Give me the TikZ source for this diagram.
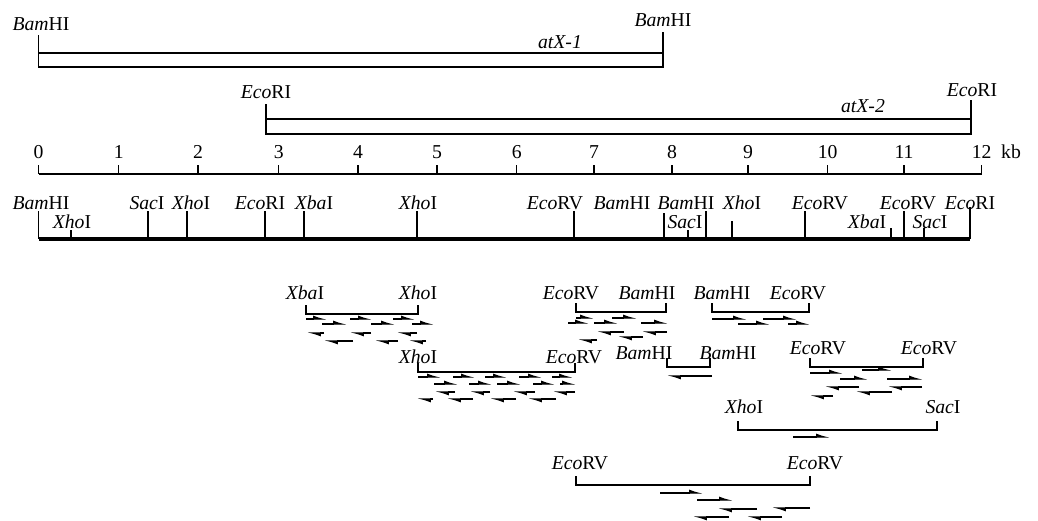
\documentclass[tikz,border=0pt]{standalone}
\usepackage{fontspec}
\setmainfont{Liberation Serif}
\usetikzlibrary{arrows.meta}
\newcommand{\rsite}[2]{\textit{#1}#2}
\begin{document}
\begin{tikzpicture}[x=0.025cm, y=-0.025cm, line width=0.9pt,
    lbl/.style={inner sep=0pt, font=\fontsize{14}{16}\selectfont},
    read/.style={line width=0.8pt, -{Latex[harpoon,length=8pt,width=5pt]}}]
    \useasboundingbox (0,0) rectangle (1038,520);

    % cloned fragments
    \draw (38.5,35) -- (38.5,67) -- (663,67) -- (663,32);
    \draw (38.5,53) -- (663,53);
    \node[lbl] (bam0) at (41,24) {\rsite{Bam}{HI}};
    \node[lbl] (bam1) at (663,20) {\rsite{Bam}{HI}};
    \node[lbl] (atx1) at (560,42) {\textit{atX-1}};

    \draw (266,104) -- (266,134) -- (971,134) -- (971,100);
    \draw (266,119) -- (971,119);
    \node[lbl] (eco0) at (266,92) {\rsite{Eco}{RI}};
    \node[lbl] (eco1) at (972,90) {\rsite{Eco}{RI}};
    \node[lbl] (atx2) at (863,106) {\textit{atX-2}};

    % kb scale
    \draw (38.5,174) -- (981.7,174);
    \foreach \k/\x in {0/38.5, 1/118.7, 2/198, 3/278.7, 4/358, 5/437, 6/516.7,
                       7/594, 8/672, 9/748, 10/827.7, 11/904, 12/981.7} {
        \draw (\x,165) -- (\x,174);
        \node[lbl] (kb\k) at (\x,152) {\k};
    }
    \node[lbl] (unit) at (1011,152) {kb};

    % restriction map
    \draw[line width=3.2pt] (38.5,239) -- (970,239);
    \foreach \x/\t in {38.5/211, 71/230, 148/211, 187/211, 265/211, 304/211, 417/211,
                       574/211, 664/213, 688/230, 706/211, 732/221, 805/211,
                       891/228, 904/211, 924/228, 970/207}
        \draw (\x,\t) -- (\x,239);

    \node[lbl] (m1) at (41,203) {\rsite{Bam}{HI}};
    \node[lbl] (m2) at (72,222) {\rsite{Xho}{I}};
    \node[lbl] (m3) at (147,203) {\rsite{Sac}{I}};
    \node[lbl] (m4) at (191,203) {\rsite{Xho}{I}};
    \node[lbl] (m5) at (260,203) {\rsite{Eco}{RI}};
    \node[lbl] (m6) at (314,203) {\rsite{Xba}{I}};
    \node[lbl] (m7) at (418,203) {\rsite{Xho}{I}};
    \node[lbl] (m8) at (555,203) {\rsite{Eco}{RV}};
    \node[lbl] (m9) at (622,203) {\rsite{Bam}{HI}};
    \node[lbl] (m10) at (686,203) {\rsite{Bam}{HI}};
    \node[lbl] (m11) at (685,222) {\rsite{Sac}{I}};
    \node[lbl] (m12) at (742,203) {\rsite{Xho}{I}};
    \node[lbl] (m13) at (820,203) {\rsite{Eco}{RV}};
    \node[lbl] (m14) at (867,222) {\rsite{Xba}{I}};
    \node[lbl] (m15) at (908,203) {\rsite{Eco}{RV}};
    \node[lbl] (m16) at (930,222) {\rsite{Sac}{I}};
    \node[lbl] (m17) at (970,203) {\rsite{Eco}{RI}};

    % subclones
    \foreach \a/\b/\y in {306/418/314, 576/666/312, 712/809/312, 418/575/372,
                          667/710/367, 810/923/367, 738/937/430, 576/810/485}
        \draw (\a,\y-9) |- (\b,\y) -- (\b,\y-9);

    \node[lbl] (s1a) at (305,293) {\rsite{Xba}{I}};
    \node[lbl] (s1b) at (418,293) {\rsite{Xho}{I}};
    \node[lbl] (s2a) at (571,293) {\rsite{Eco}{RV}};
    \node[lbl] (s2b) at (647,293) {\rsite{Bam}{HI}};
    \node[lbl] (s3a) at (722,293) {\rsite{Bam}{HI}};
    \node[lbl] (s3b) at (798,293) {\rsite{Eco}{RV}};
    \node[lbl] (s4a) at (418,357) {\rsite{Xho}{I}};
    \node[lbl] (s4b) at (574,357) {\rsite{Eco}{RV}};
    \node[lbl] (s5a) at (644,353) {\rsite{Bam}{HI}};
    \node[lbl] (s5b) at (728,353) {\rsite{Bam}{HI}};
    \node[lbl] (s6a) at (818,348) {\rsite{Eco}{RV}};
    \node[lbl] (s6b) at (929,348) {\rsite{Eco}{RV}};
    \node[lbl] (s7a) at (744,407) {\rsite{Xho}{I}};
    \node[lbl] (s7b) at (943,407) {\rsite{Sac}{I}};
    \node[lbl] (s8a) at (580,463) {\rsite{Eco}{RV}};
    \node[lbl] (s8b) at (815,463) {\rsite{Eco}{RV}};

    % sequencing runs
    \foreach \a/\b/\y in {306/327/319, 350/372/319, 393/415/319,
                          322/347/324, 371/395/324, 412/434/324,
                          324/307/333, 371/350/333, 417/397/333,
                          353/324/341, 398/375/341, 426/409/341,
                          418/441/377, 453/475/377, 485/507/377, 519/542/377, 552/573/377,
                          434/458/384, 469/492/384, 497/521/384, 533/555/384, 560/576/384,
                          455/435/392, 490/470/392, 535/513/392, 575/553/392,
                          433/417/399, 473/447/399, 516/490/399, 556/528/399,
                          576/594/318, 612/637/318,
                          568/589/323, 594/618/323, 641/668/323,
                          624/597/332, 667/642/332, 643/618/337, 597/578/340,
                          712/747/319, 763/797/319, 738/770/324, 788/810/324,
                          712/667/376,
                          810/843/373, 862/892/370, 840/868/379, 887/923/379,
                          859/825/387, 922/888/387, 892/856/392, 833/810/396,
                          793/830/437,
                          660/703/493, 697/733/500, 757/718/509, 810/772/508,
                          729/693/517, 782/747/517}
        \draw[read] (\a,\y) -- (\b,\y);
\end{tikzpicture}
\end{document}
